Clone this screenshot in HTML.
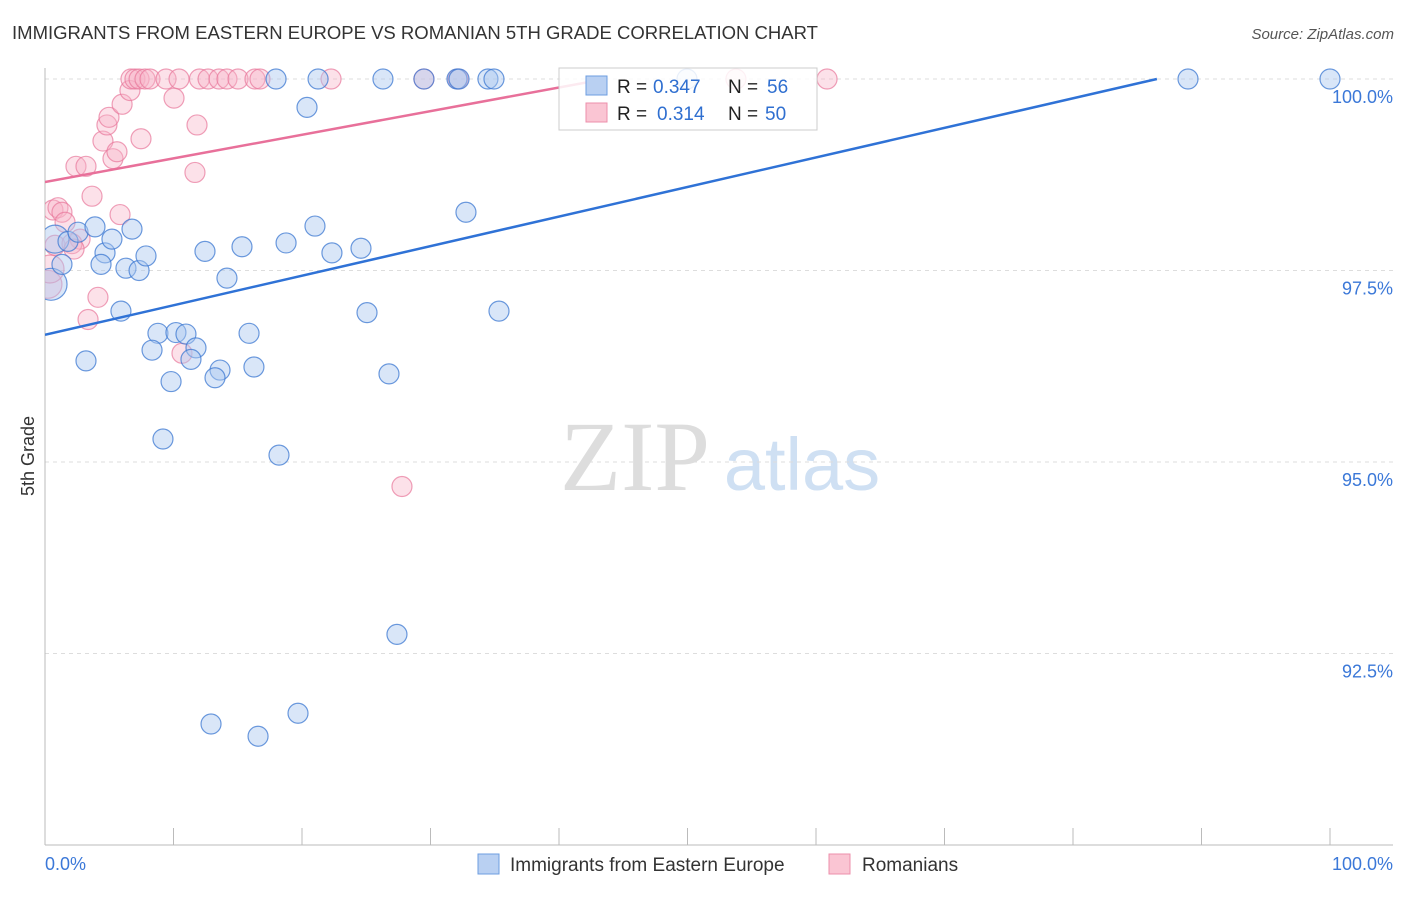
<!DOCTYPE html>
<html><head><meta charset="utf-8"><style>
body{margin:0;background:#fff;font-family:"Liberation Sans",sans-serif;}
</style></head><body>
<svg width="1406" height="892" xmlns="http://www.w3.org/2000/svg" font-family="Liberation Sans, sans-serif">
<defs><clipPath id="pc"><rect x="45" y="60" width="1350" height="786"/></clipPath></defs>
<text x="12" y="39" font-size="18" fill="#333" textLength="806" lengthAdjust="spacingAndGlyphs">IMMIGRANTS FROM EASTERN EUROPE VS ROMANIAN 5TH GRADE CORRELATION CHART</text>
<text x="1394" y="39" font-size="15" fill="#555" font-style="italic" text-anchor="end">Source: ZipAtlas.com</text>
<text x="34" y="456" font-size="18" fill="#333" transform="rotate(-90 34 456)" text-anchor="middle">5th Grade</text>
<g><text x="635" y="490" font-size="100" fill="#ddd" style="font-family:'Liberation Serif',serif" text-anchor="middle">ZIP</text><text x="802" y="490" font-size="74" fill="#cfe0f3" text-anchor="middle">atlas</text></g>
<g id="grid"></g>
<g id="axes"></g>
<g id="marks" clip-path="url(#pc)"></g>
<g>
<rect x="559" y="68" width="258" height="62" fill="#fff" fill-opacity="0.85" stroke="#ccc"/>
<rect x="586" y="76" width="21" height="19" fill="#b9d0f2" stroke="#6d9ee0"/>
<rect x="586" y="103" width="21" height="19" fill="#fac5d3" stroke="#ec8fab"/>
<text x="617" y="93" font-size="19" fill="#222">R =</text><text x="653" y="93" font-size="19" fill="#2f6fd0">0.347</text><text x="728" y="93" font-size="19" fill="#222">N =</text><text x="767" y="93" font-size="19" fill="#2f6fd0">56</text>
<text x="617" y="120" font-size="19" fill="#222">R =</text><text x="657" y="120" font-size="19" fill="#2f6fd0">0.314</text><text x="728" y="120" font-size="19" fill="#222">N =</text><text x="765" y="120" font-size="19" fill="#2f6fd0">50</text>
</g>
<g>
<rect x="478" y="854" width="21" height="20" fill="#b9d0f2" stroke="#6d9ee0"/>
<text x="510" y="871" font-size="19" fill="#333">Immigrants from Eastern Europe</text>
<rect x="829" y="854" width="21" height="20" fill="#fac5d3" stroke="#ec8fab"/>
<text x="862" y="871" font-size="19" fill="#333">Romanians</text>
</g>
</svg>
<script>
const yTicks=[100,97.5,95,92.5];
const yTickLabels=["100.0%","97.5%","95.0%","92.5%"];
const xTickLabels=["0.0%","100.0%"];
const blueX=[0.78,0.47,1.32,1.79,2.57,3.89,4.67,5.21,4.36,6.30,7.32,6.77,7.86,5.91,8.79,10.19,10.97,11.75,11.36,8.33,9.81,9.18,13.62,13.23,12.45,14.16,15.33,15.88,16.26,18.76,21.01,22.33,24.59,25.06,26.77,18.21,20.39,17.98,21.25,26.30,29.49,32.06,32.22,34.47,34.94,32.76,35.33,27.39,12.92,16.58,19.69,49.96,88.95,100.0,3.19];
const blueY=[97.91,97.32,97.58,97.88,98.00,98.07,97.73,97.91,97.58,97.53,97.50,98.04,97.69,96.97,96.68,96.69,96.67,96.49,96.34,96.46,96.05,95.30,96.20,96.10,97.75,97.40,97.81,96.68,96.24,97.86,98.08,97.73,97.79,96.95,96.15,95.09,99.63,100,100,100,100,100,100,100,100,98.26,96.97,92.75,91.58,91.42,91.72,100,100,100,96.32];
const blueR=[14,16,10,10,10,10,10,10,10,10,10,10,10,10,10,10,10,10,10,10,10,10,10,10,10,10,10,10,10,10,10,10,10,10,10,10,10,10,10,10,10,10,10,10,10,10,10,10,10,10,10,10,10,10,10];
const pinkX=[0.62,1.01,1.32,1.56,0.78,0.23,2.73,2.10,2.41,3.19,3.66,4.51,5.29,5.60,4.82,4.98,6.00,6.61,6.69,7.00,7.32,7.78,8.17,9.42,10.43,10.04,11.83,11.67,7.47,5.84,4.12,3.35,10.66,12.02,12.69,13.54,14.16,15.02,16.34,16.73,22.26,29.49,32.14,53.77,60.86,27.78,2.26,0.39];
const pinkY=[98.29,98.32,98.26,98.13,97.83,97.32,97.91,97.85,98.86,98.86,98.47,99.19,98.96,99.05,99.40,99.50,99.67,99.85,100,100,100,100,100,100,100,99.75,99.40,98.78,99.22,98.23,97.15,96.86,96.42,100,100,100,100,100,100,100,100,100,100,100,100,94.68,97.78,97.52];
const pinkR=[10,10,10,10,10,14,10,10,10,10,10,10,10,10,10,10,10,10,10,10,10,10,10,10,10,10,10,10,10,10,10,10,10,10,10,10,10,10,10,10,10,10,10,10,10,10,10,14];
const blueLine=[96.66,100.52];
const pinkLine=[98.655,101.74];
const X=v=>45+v*12.85;
const Y=v=>79+(100-v)*76.6;
const NS="http://www.w3.org/2000/svg";
function mk(t,a,p){const e=document.createElementNS(NS,t);for(const k in a)e.setAttribute(k,a[k]);p.appendChild(e);return e;}
const grid=document.getElementById('grid'),axes=document.getElementById('axes'),marks=document.getElementById('marks');
yTicks.forEach((t,i)=>{
 const l=mk('line',{x1:45,x2:1393,y1:Y(t),y2:Y(t),stroke:'#ddd','stroke-dasharray':'4,4'},grid);
 
 
 const tx=mk('text',{x:1393,y:Y(t)+24,'font-size':18,fill:'#3b78d8','text-anchor':'end'},axes);
 tx.textContent=yTickLabels[i];
 
 
});
mk('line',{x1:45,x2:45,y1:68,y2:845,stroke:'#bbb'},axes);
mk('line',{x1:45,x2:1393,y1:845,y2:845,stroke:'#bbb'},axes);
for(let i=1;i<=10;i++){mk('line',{x1:X(i*10),x2:X(i*10),y1:828,y2:845,stroke:'#bbb'},axes);}
[[0,'start'],[100,'end']].forEach((d,i)=>{
 const tx=mk('text',{x:i?1393:45,y:870,'font-size':18,fill:'#3b78d8','text-anchor':d[1]},axes);
 tx.textContent=xTickLabels[i];
 
 
});
function line(v,c,n){
 const x0=0,y0=v[0],s=(v[1]-v[0])/100;let x1=100,y1=v[1];
 if(y1>100){x1=(100-y0)/s;y1=100;}
 const l=mk('line',{x1:X(x0),y1:Y(y0),x2:X(x1),y2:Y(y1),stroke:c,'stroke-width':2.5},marks);
 
 
}
function pts(xs,ys,rs,f,s,n){
 xs.forEach((x,i)=>{
  const c=mk('circle',{cx:X(x),cy:Y(ys[i]),r:rs[i]||10,fill:f,stroke:s,'stroke-width':1.2},marks);
  
  
 });
}
pts(pinkX,pinkY,pinkR,'rgba(248,180,200,0.4)','rgba(232,120,155,0.7)','romanian-point');
pts(blueX,blueY,blueR,'rgba(170,200,240,0.45)','rgba(60,120,210,0.75)','eastern-europe-point');
line(pinkLine,'#e8709a','romanian-trend-line');
line(blueLine,'#2f72d6','eastern-europe-trend-line');
</script>
</body></html>
